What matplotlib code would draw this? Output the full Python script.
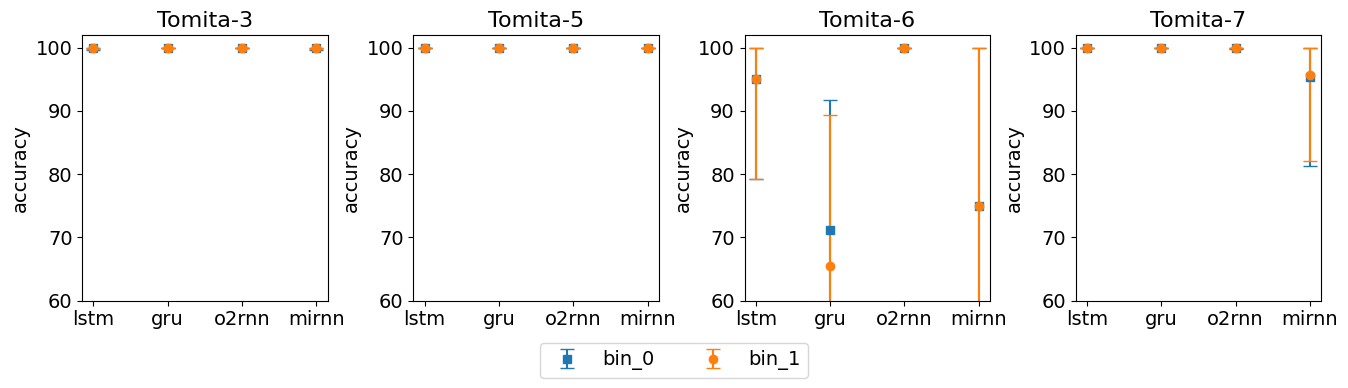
import numpy as np
import matplotlib.pyplot as plt

plt.rcParams['font.size'] = 14

models = ['lstm', 'gru', 'o2rnn', 'mirnn']
tasks = ['Tomita-3', 'Tomita-5', 'Tomita-6', 'Tomita-7']

# mean accuracy, lower / upper error for each task and model
bin0_mean = [[99.9, 100, 100, 99.9], [100, 100, 100, 100], [95.1, 71.1, 100, 75.0], [100, 100, 99.9, 95.3]]
bin0_low = [[0.3, 0, 0, 0.3], [0, 0, 0, 0], [15.8, 20.6, 0, 25.0], [0, 0, 0.2, 14.0]]
bin0_high = [[0.1, 0, 0, 0.1], [0, 0, 0, 0], [4.9, 20.6, 0, 25.0], [0, 0, 0.1, 4.7]]

bin1_mean = [[99.9, 100, 100, 99.9], [100, 100, 100, 100], [95.0, 65.5, 100, 75.0], [100, 100, 100, 95.7]]
bin1_low = [[0.2, 0, 0, 0.2], [0, 0, 0, 0], [15.7, 23.8, 0, 25.0], [0, 0, 0, 13.7]]
bin1_high = [[0.1, 0, 0, 0.1], [0, 0, 0, 0], [5.0, 23.8, 0, 25.0], [0, 0, 0, 4.3]]

fig, axes = plt.subplots(1, 4, figsize=(13.48, 3.88), dpi=100)
x = np.arange(len(models))
for i, ax in enumerate(axes):
    ax.errorbar(x, bin0_mean[i], yerr=[bin0_low[i], bin0_high[i]], fmt='s', capsize=5, label='bin_0')
    ax.errorbar(x, bin1_mean[i], yerr=[bin1_low[i], bin1_high[i]], fmt='o', capsize=5, label='bin_1')
    ax.set_xticks(x)
    ax.set_xticklabels(models)
    ax.set_ylim(60, 102)
    ax.set_yticks([60, 70, 80, 90, 100])
    ax.set_ylabel('accuracy')
    ax.set_title(tasks[i], fontsize=16)

handles, labels = axes[0].get_legend_handles_labels()
fig.legend(handles, labels, loc='lower center', ncol=2, bbox_to_anchor=(0.5, 0.0))
fig.subplots_adjust(left=0.061, right=0.98, top=0.91, bottom=0.225, wspace=0.35)
fig.savefig('out.png')
